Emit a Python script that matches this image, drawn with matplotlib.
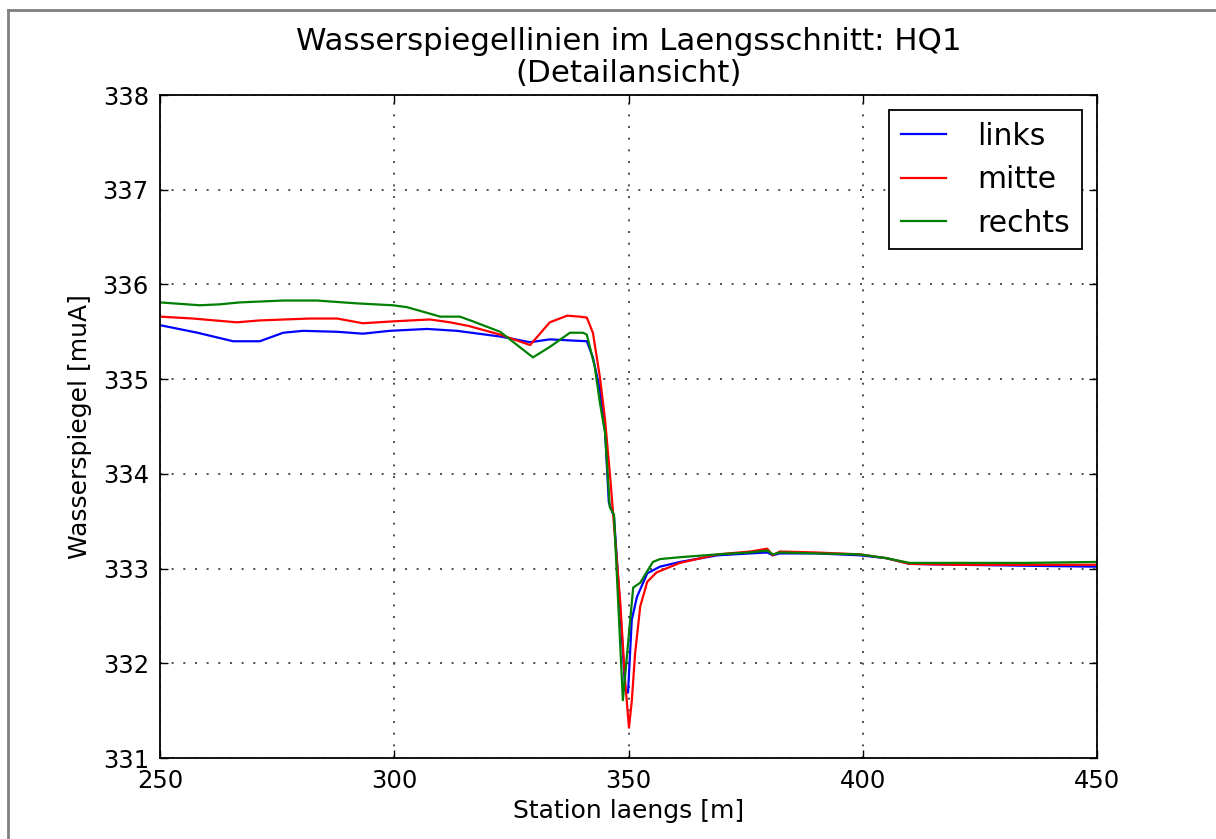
import matplotlib
matplotlib.use("Agg")
import matplotlib.pyplot as plt
from matplotlib.lines import Line2D

# Wasserspiegel links / mitte / rechts, Detail um den Absturz bei km 350
st_links = [250, 252, 258, 265.6, 271.3, 276.3, 280.5, 287.8, 293.3, 299, 307, 313.4,
            322.6, 329, 333.2, 341.1, 342.4, 343.9, 345, 345.8, 346.9, 348.2, 349.3,
            349.9, 350.7, 351.8, 354, 356.7, 361, 369, 376, 379.6, 380.8, 382.3, 390,
            399.4, 405, 410, 420, 435, 450]
ws_links = [335.57, 335.55, 335.49, 335.40, 335.40, 335.49, 335.51, 335.50, 335.48,
            335.51, 335.53, 335.51, 335.45, 335.39, 335.42, 335.40, 335.23, 334.89,
            334.45, 333.70, 333.55, 332.60, 331.72, 331.69, 332.46, 332.70, 332.95,
            333.02, 333.07, 333.14, 333.16, 333.17, 333.14, 333.16, 333.16, 333.14,
            333.11, 333.05, 333.04, 333.03, 333.02]

st_mitte = [250, 257, 266.4, 271.3, 282, 287.8, 293.3, 299.7, 307.6, 311.9, 316, 322.6,
            329, 333.2, 336.9, 339.6, 341.1, 342.4, 343.9, 345, 346.2, 347, 348.2,
            349.3, 350.1, 350.7, 351.4, 352.5, 354, 356, 361, 369, 376, 379.6, 380.8,
            382.3, 390, 399.4, 405, 410, 420, 435, 450]
ws_mitte = [335.66, 335.64, 335.60, 335.62, 335.64, 335.64, 335.59, 335.61, 335.63,
            335.60, 335.56, 335.47, 335.36, 335.60, 335.67, 335.66, 335.65, 335.49,
            335.02, 334.57, 333.90, 333.40, 332.67, 331.80, 331.32, 331.60, 332.10,
            332.60, 332.86, 332.96, 333.06, 333.15, 333.18, 333.21, 333.14, 333.18,
            333.17, 333.15, 333.11, 333.05, 333.04, 333.04, 333.04]

st_rechts = [250, 258.5, 262.8, 267, 276.3, 283.5, 292, 299.7, 302.7, 307, 309.8, 314,
             316.8, 322.6, 329.6, 333.2, 337.5, 340.3, 341.1, 342.8, 343.9, 345, 346,
             346.9, 348.8, 351, 352.5, 355.2, 356.7, 361, 369, 376, 379.6, 380.8, 382.3,
             390, 399.4, 405, 410, 420, 435, 450]
ws_rechts = [335.81, 335.78, 335.79, 335.81, 335.83, 335.83, 335.80, 335.78, 335.76,
             335.70, 335.66, 335.66, 335.61, 335.50, 335.23, 335.34, 335.49, 335.49,
             335.47, 335.13, 334.75, 334.43, 333.65, 333.57, 331.61, 332.80, 332.85,
             333.07, 333.10, 333.12, 333.15, 333.17, 333.19, 333.15, 333.17, 333.16,
             333.15, 333.11, 333.06, 333.06, 333.06, 333.07]

xticks = [250, 300, 350, 400, 450]
yticks = [331, 332, 333, 334, 335, 336, 337, 338]

plt.rcParams['font.family'] = 'DejaVu Sans'

fig = plt.figure(figsize=(12.16, 8.39), dpi=100, facecolor='w')
ax = fig.add_axes([160 / 1216, 81 / 839, 937 / 1216, 663 / 839])

lw = 1.6
ax.plot(st_links, ws_links, color=(0, 0, 1), lw=lw, label='links')
ax.plot(st_mitte, ws_mitte, color=(1, 0, 0), lw=lw, label='mitte')
ax.plot(st_rechts, ws_rechts, color=(0, 0.5, 0), lw=lw, label='rechts')

ax.set_xlim(250, 450)
ax.set_ylim(331, 338)
ax.set_xticks(xticks)
ax.set_yticks(yticks)
ax.tick_params(direction='in', length=6, width=1, labelsize=17.5, pad=8,
               top=True, right=True)
ax.grid(True, color='0.3', linestyle=(0, (1, 5)), linewidth=1.4)
for s in ax.spines.values():
    s.set_linewidth(1.3)

ax.set_title('Wasserspiegellinien im Laengsschnitt: HQ1\n(Detailansicht)',
             fontsize=22.2, pad=9, linespacing=1.15)
ax.set_xlabel('Station laengs [m]', fontsize=18, labelpad=4)
ax.set_ylabel('Wasserspiegel [muA]', fontsize=18, labelpad=8)

leg = ax.legend(loc='upper right', fontsize=21.5, fancybox=False, framealpha=1,
                edgecolor='k', handlelength=1.5, borderpad=0.4, labelspacing=0.48,
                handletextpad=1.05, borderaxespad=0.5)
leg.get_frame().set_linewidth(1.3)

# grauer Rahmen links und oben
fig.add_artist(Line2D([7.5 / 1216, 1], [1 - 10 / 839, 1 - 10 / 839],
                      transform=fig.transFigure, color='0.5', lw=2))
fig.add_artist(Line2D([7.5 / 1216, 7.5 / 1216], [0, 1 - 10 / 839],
                      transform=fig.transFigure, color='0.5', lw=2))

fig.savefig('out.png', dpi=100, facecolor='w')
